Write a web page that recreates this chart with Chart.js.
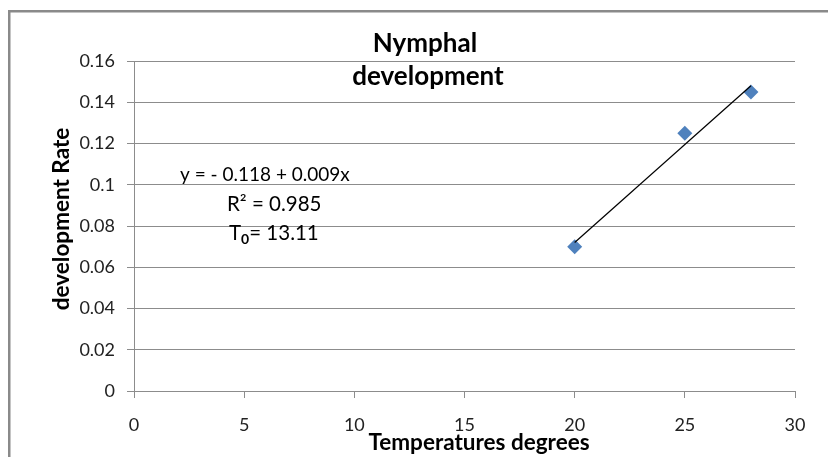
<!DOCTYPE html>
<html>
<head>
<meta charset="utf-8">
<script src="https://cdn.jsdelivr.net/npm/chart.js@4"></script>
<style>
  body { margin: 0; background: #fff; }
  #chart { display: block; }
</style>
</head>
<body>
<canvas id="chart" width="828" height="457"></canvas>
<script>
// values
const temperatures = [20, 25, 28];
const devRates = [0.07, 0.125, 0.145];

// trend line end points (as drawn in the picture)
const trendX = [20, 28];
const trendY = [0.072, 0.148];

const xTickLabels = ['0', '5', '10', '15', '20', '25', '30'];
const yTickLabels = ['0', '0.02', '0.04', '0.06', '0.08', '0.1', '0.12', '0.14', '0.16'];

const titleLines = ['Nymphal', 'development'];
const xTitle = 'Temperatures degrees';
const yTitle = 'development Rate';
const equation = 'y = - 0.118 + 0.009x';
const rSquared = 'R\u00b2 = 0.985';
const tZero = '= 13.11';

const gridColor = '#8c8c8c';
const markerColor = '#4f81bd';

// titles, regression text and the chart frame are drawn by hand
const chartText = {
    id: 'chartText',
    beforeDraw(chart) {
        const ctx = chart.ctx;
        ctx.save();
        ctx.strokeStyle = '#8a8a8a';
        ctx.lineWidth = 2.5;
        ctx.strokeRect(9.25, 11.25, 900, 600);
        ctx.restore();
    },
    afterDraw(chart) {
        const ctx = chart.ctx;
        ctx.save();
        ctx.fillStyle = '#000';
        ctx.textAlign = 'center';
        ctx.textBaseline = 'middle';

        ctx.font = 'bold 26px Lato';
        ctx.fillText(titleLines[0], 425, 44);
        ctx.fillText(titleLines[1], 428, 77);

        ctx.font = 'bold 22.5px Lato';
        ctx.fillText(xTitle, 479, 443);
        ctx.save();
        ctx.translate(62, 219);
        ctx.rotate(-Math.PI / 2);
        ctx.fillText(yTitle, 0, 0);
        ctx.restore();

        // regression text
        ctx.textAlign = 'left';
        ctx.font = '19px Lato';
        ctx.fillText(equation, 180, 175);
        ctx.font = '20.5px Lato';
        ctx.fillText(rSquared, 227, 204);
        ctx.fillText('T', 229, 233);
        const tw = ctx.measureText('T').width;
        ctx.font = 'bold 14px Lato';
        ctx.fillText('0', 229 + tw, 239);
        const zw = ctx.measureText('0').width;
        ctx.font = '20.5px Lato';
        ctx.fillText(tZero, 229 + tw + zw, 233);
        ctx.restore();
    }
};

new Chart(document.getElementById('chart'), {
    type: 'scatter',
    data: {
        datasets: [{
            label: 'Trend',
            type: 'line',
            data: trendX.map((x, i) => ({ x: x, y: trendY[i] })),
            borderColor: '#000',
            borderWidth: 1.2,
            pointRadius: 0,
            fill: false,
            order: 0
        }, {
            label: 'Development rate',
            data: temperatures.map((t, i) => ({ x: t, y: devRates[i] })),
            pointStyle: 'rectRot',
            pointRadius: 7.5,
            pointHoverRadius: 7.5,
            backgroundColor: markerColor,
            borderColor: markerColor,
            borderWidth: 0,
            order: 1
        }]
    },
    options: {
        responsive: false,
        animation: false,
        layout: {
            padding: { left: 0, top: 61, right: 33, bottom: 0 }
        },
        scales: {
            x: {
                type: 'linear',
                min: 0,
                max: 30,
                afterFit: scale => { scale.height = 66; },
                ticks: {
                    stepSize: 5,
                    padding: 16,
                    color: '#222',
                    font: { family: 'Lato', size: 18 },
                    callback: (value, index) => xTickLabels[index]
                },
                grid: {
                    drawOnChartArea: false,
                    color: gridColor,
                    tickLength: 7
                },
                border: { color: gridColor }
            },
            y: {
                min: 0,
                max: 0.16,
                afterFit: scale => { scale.width = 134; },
                ticks: {
                    stepSize: 0.02,
                    padding: 12,
                    color: '#222',
                    font: { family: 'Lato', size: 18 },
                    callback: (value, index) => yTickLabels[index]
                },
                grid: {
                    color: gridColor,
                    tickLength: 7
                },
                border: { color: gridColor }
            }
        },
        plugins: {
            legend: { display: false },
            tooltip: { enabled: false }
        }
    },
    plugins: [chartText]
});
</script>
</body>
</html>
